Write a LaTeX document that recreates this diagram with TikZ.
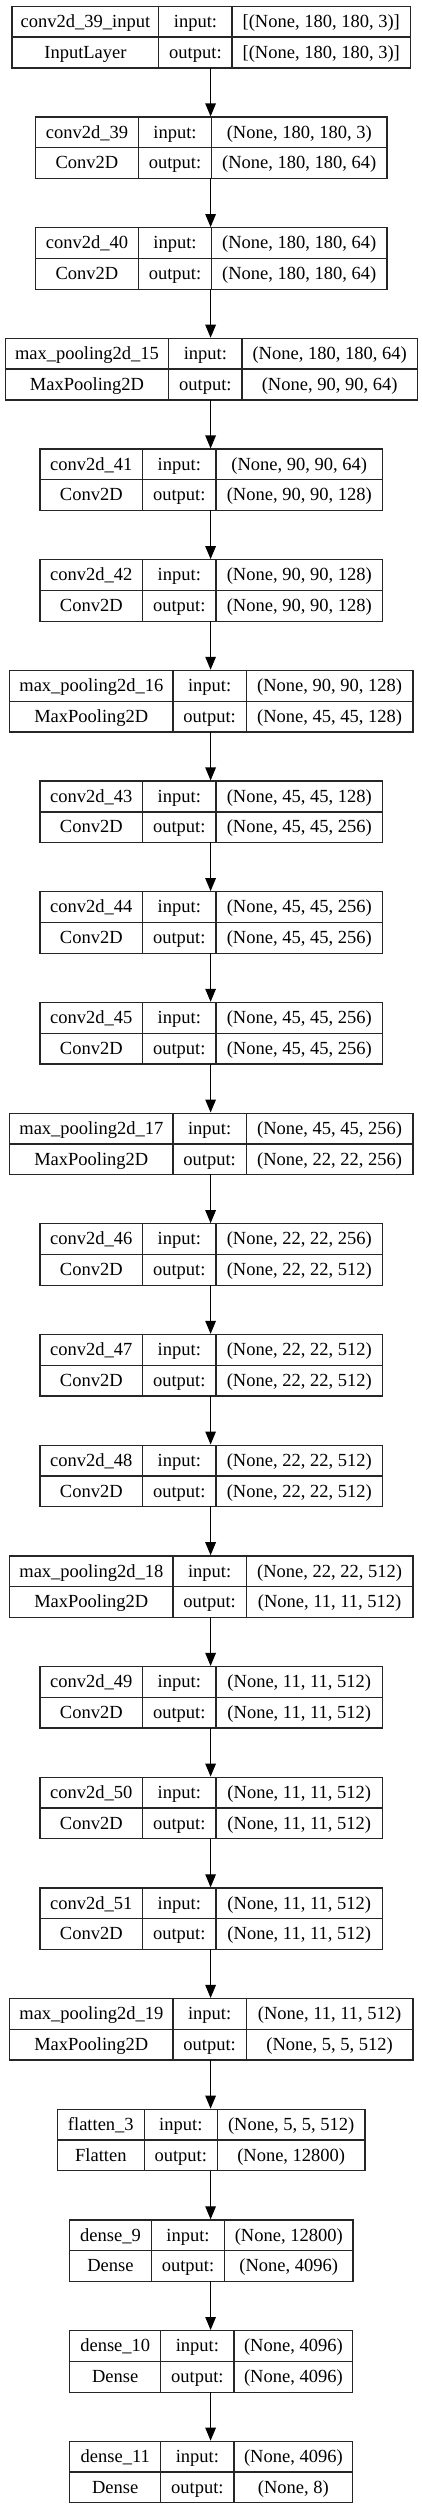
\documentclass[tikz,border=0pt]{standalone}
\usepackage{fontspec}
\setmainfont{Liberation Serif}
\usetikzlibrary{arrows.meta}
\newcommand\cellfont{\fontsize{18.5}{20}\selectfont}
\tikzset{
  cell/.style={draw=black!85, line width=1.3pt, minimum height=30.75pt, inner sep=0pt,
    anchor=north west, font=\cellfont, text height=14.5pt, text depth=3pt},
  boxshape/.style={minimum height=61.5pt, inner sep=0pt, anchor=north},
  arr/.style={draw=black, line width=1.3pt, -{Triangle[length=13pt,width=10.5pt]}}
}
% #1 id, #2 index, #3 layer name, #4 class, #5 input shape, #6 output shape, #7 col1 width, #8 col3 width
\newcommand\layer[8]{%
  \pgfmathsetmacro\ytop{5.7+#2*110.68}%
  \pgfmathsetmacro\ymid{\ytop+30.75}%
  \pgfmathsetmacro\wt{#7+73.3+#8}%
  \pgfmathsetmacro\xa{210.6-\wt/2}%
  \pgfmathsetmacro\xb{\xa+#7}%
  \pgfmathsetmacro\xc{\xb+73.3}%
  \node[boxshape, minimum width=\wt pt] (#1) at (210.6,\ytop) {};
  \node[cell, minimum width=#7pt] (#1-n) at (\xa,\ytop) {#3};
  \node[cell, minimum width=73.3pt] (#1-i) at (\xb,\ytop) {input:};
  \node[cell, minimum width=#8pt] (#1-is) at (\xc,\ytop) {#5};
  \node[cell, minimum width=#7pt] (#1-c) at (\xa,\ymid) {#4};
  \node[cell, minimum width=73.3pt] (#1-o) at (\xb,\ymid) {output:};
  \node[cell, minimum width=#8pt] (#1-os) at (\xc,\ymid) {#6};
}
\begin{document}
\begin{tikzpicture}[x=1pt,y=-1pt]
\useasboundingbox[fill=white] (0,0) rectangle (421,2508);
\layer{L0}{0}{conv2d\_39\_input}{InputLayer}{[(None, 180, 180, 3)]}{[(None, 180, 180, 3)]}{146.7}{178.3}
\layer{L1}{1}{conv2d\_39}{Conv2D}{(None, 180, 180, 3)}{(None, 180, 180, 64)}{102.7}{175.2}
\layer{L2}{2}{conv2d\_40}{Conv2D}{(None, 180, 180, 64)}{(None, 180, 180, 64)}{102.7}{175.2}
\layer{L3}{3}{max\_pooling2d\_15}{MaxPooling2D}{(None, 180, 180, 64)}{(None, 90, 90, 64)}{163.4}{175.2}
\layer{L4}{4}{conv2d\_41}{Conv2D}{(None, 90, 90, 64)}{(None, 90, 90, 128)}{102.7}{166.6}
\layer{L5}{5}{conv2d\_42}{Conv2D}{(None, 90, 90, 128)}{(None, 90, 90, 128)}{102.7}{166.6}
\layer{L6}{6}{max\_pooling2d\_16}{MaxPooling2D}{(None, 90, 90, 128)}{(None, 45, 45, 128)}{163.4}{166.6}
\layer{L7}{7}{conv2d\_43}{Conv2D}{(None, 45, 45, 128)}{(None, 45, 45, 256)}{102.7}{166.6}
\layer{L8}{8}{conv2d\_44}{Conv2D}{(None, 45, 45, 256)}{(None, 45, 45, 256)}{102.7}{166.6}
\layer{L9}{9}{conv2d\_45}{Conv2D}{(None, 45, 45, 256)}{(None, 45, 45, 256)}{102.7}{166.6}
\layer{L10}{10}{max\_pooling2d\_17}{MaxPooling2D}{(None, 45, 45, 256)}{(None, 22, 22, 256)}{163.4}{166.6}
\layer{L11}{11}{conv2d\_46}{Conv2D}{(None, 22, 22, 256)}{(None, 22, 22, 512)}{102.7}{166.6}
\layer{L12}{12}{conv2d\_47}{Conv2D}{(None, 22, 22, 512)}{(None, 22, 22, 512)}{102.7}{166.6}
\layer{L13}{13}{conv2d\_48}{Conv2D}{(None, 22, 22, 512)}{(None, 22, 22, 512)}{102.7}{166.6}
\layer{L14}{14}{max\_pooling2d\_18}{MaxPooling2D}{(None, 22, 22, 512)}{(None, 11, 11, 512)}{163.4}{166.6}
\layer{L15}{15}{conv2d\_49}{Conv2D}{(None, 11, 11, 512)}{(None, 11, 11, 512)}{102.7}{166.6}
\layer{L16}{16}{conv2d\_50}{Conv2D}{(None, 11, 11, 512)}{(None, 11, 11, 512)}{102.7}{166.6}
\layer{L17}{17}{conv2d\_51}{Conv2D}{(None, 11, 11, 512)}{(None, 11, 11, 512)}{102.7}{166.6}
\layer{L18}{18}{max\_pooling2d\_19}{MaxPooling2D}{(None, 11, 11, 512)}{(None, 5, 5, 512)}{163.4}{166.6}
\layer{L19}{19}{flatten\_3}{Flatten}{(None, 5, 5, 512)}{(None, 12800)}{86.6}{147.5}
\layer{L20}{20}{dense\_9}{Dense}{(None, 12800)}{(None, 4096)}{81.7}{128.2}
\layer{L21}{21}{dense\_10}{Dense}{(None, 4096)}{(None, 4096)}{91}{118.7}
\layer{L22}{22}{dense\_11}{Dense}{(None, 4096)}{(None, 8)}{91}{118.7}
\foreach \a/\b in {L0/L1,L1/L2,L2/L3,L3/L4,L4/L5,L5/L6,L6/L7,L7/L8,L8/L9,L9/L10,L10/L11,L11/L12,L12/L13,L13/L14,L14/L15,L15/L16,L16/L17,L17/L18,L18/L19,L19/L20,L20/L21,L21/L22}
  \draw[arr] (\a.south) -- (\b.north);
\end{tikzpicture}
\end{document}
